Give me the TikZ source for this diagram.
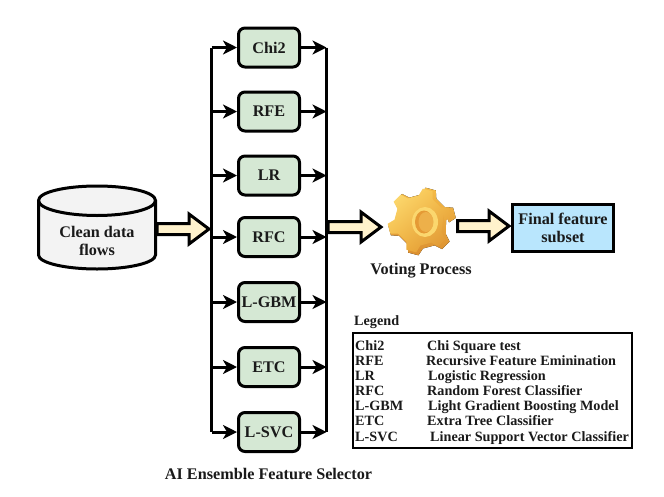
\documentclass[tikz,border=0pt]{standalone}
\usepackage{fontspec}
\setmainfont{Liberation Serif}
\usetikzlibrary{arrows.meta,calc,shadings}
\definecolor{boxgreen}{HTML}{D5E8D4}
\definecolor{arrowcream}{HTML}{FFF2CC}
\definecolor{finalblue}{HTML}{B9E6FD}
\definecolor{cylgray}{HTML}{F3F3F3}
\definecolor{txt}{HTML}{1A1A1A}
\definecolor{gearA}{HTML}{FFE27A}
\definecolor{gearB}{HTML}{F5BC48}
\definecolor{gearC}{HTML}{F2B642}
\definecolor{gearD}{HTML}{DB8F30}
\definecolor{gearE}{HTML}{E59A35}
\definecolor{gearF}{HTML}{FBD76E}
\definecolor{gearG}{HTML}{EDB04A}
\tikzset{
  x=1pt,y=-1pt,
  every node/.style={font=\bfseries\fontsize{16.2}{18}\selectfont,text=txt,inner sep=0pt},
  selector/.style={draw=black,line width=3pt,rounded corners=6.5pt,fill=boxgreen,minimum width=61pt,minimum height=39pt},
  bus/.style={line width=3pt,line cap=butt},
  feed/.style={line width=3pt,-{Stealth[length=14pt,width=14pt,inset=4pt]}},
  fat/.style={draw=black,line width=3pt,fill=arrowcream,miter limit=6},
  legendkey/.style={anchor=base west,font=\bfseries\fontsize{14.2}{16}\selectfont},
}
% fat arrow between two named points
\newcommand{\fatarrow}[2]{%
  \path[fat] let \p1=(#1),\p2=(#2) in
    (\x1,\y1+5.5pt) -- (\x2-20pt,\y1+5.5pt) -- (\x2-20pt,\y1+15pt) -- (\x2,\y1) --
    (\x2-20pt,\y1-15pt) -- (\x2-20pt,\y1-5.5pt) -- (\x1,\y1-5.5pt) -- cycle;}
\begin{document}
\begin{tikzpicture}
\useasboundingbox (0,0) rectangle (664,496);
% selectors
\node[selector] (chi) at (269,47.5) {Chi2};
\node[selector] (rfe) at (269,111.5) {RFE};
\node[selector] (lr) at (269,175.5) {LR};
\node[selector] (rfc) at (269,237) {RFC};
\node[selector] (gbm) at (269,302) {L-GBM};
\node[selector] (etc) at (269,367) {ETC};
\node[selector] (svc) at (269,432) {L-SVC};
% buses
\coordinate (lt) at (211.5,47.5);
\coordinate (lb) at (211.5,432);
\coordinate (rt) at (326.5,47.5);
\coordinate (rb) at (326.5,432);
\draw[bus] (lt) -- (lb);
\draw[bus] (rt) -- (rb);
\foreach \n in {chi,rfe,lr,rfc,gbm,etc,svc}{
  \draw[feed] (lt |- \n.west) -- (\n.west);
  \draw[feed] (\n.east) -- (rt |- \n.east);
}
% cylinder
\node[minimum width=118pt,minimum height=84pt] (clean) at (97,227.5) {};
\draw[line width=3pt,fill=cylgray] (38.5,200.5) .. controls (38.5,192) and (66,186) .. (97,186)
  .. controls (128,186) and (155.5,192) .. (155.5,200.5) -- (155.5,255)
  .. controls (155.5,263) and (128,269) .. (97,269)
  .. controls (66,269) and (38.5,263) .. (38.5,255) -- cycle;
\draw[line width=3pt] (38.5,200.5) .. controls (38.5,209) and (66,215.5) .. (97,215.5)
  .. controls (128,215.5) and (155.5,209) .. (155.5,200.5);
\node[align=center] at (97,241) {Clean data\\[0pt]flows};
% gear
\begin{scope}[shift={(422,221.5)}]
  \fill[top color=gearB,bottom color=gearD]
    (-15:25) \foreach \a in {15,75,135,195,255,315}{
      -- (-\a+17:27) -- (-\a+9:34) -- (-\a-9:34) -- (-\a-17:27) } -- cycle;
\end{scope}
\begin{scope}[shift={(419.5,220.5)}]
  \shade[upper left=gearA,lower right=gearD,upper right=gearB,lower left=gearC]
    (-15:25) \foreach \a in {15,75,135,195,255,315}{
      -- (-\a+17:25) -- (-\a+9:32) -- (-\a-9:32) -- (-\a-17:25) } -- cycle;
\end{scope}
\fill[gearF] (425,222) ellipse (13 and 15);
\fill[gearE] (424,222) ellipse (9 and 11.5);
\fill[gearG] (426,222) ellipse (7.5 and 10);
\node (vote) at (421,270.5) {Voting Process};
% final box
\node[draw=black,line width=3pt,fill=finalblue,minimum width=101pt,minimum height=47pt,align=center] (final) at (563,228) {Final feature\\[0pt]subset};
% fat arrows
\coordinate (a1) at (157,229);
\coordinate (a1e) at (209,229);
\coordinate (a2) at (328,227);
\coordinate (a2e) at (381,227);
\coordinate (a3) at (457.5,226);
\coordinate (a3e) at (509,226);
\fatarrow{a1}{a1e}
\fatarrow{a2}{a2e}
\fatarrow{a3}{a3e}
% bottom label
\node (ens) at (268.5,474) {AI Ensemble Feature Selector};
% legend
\node[legendkey] (legend) at (354,325) {Legend};
\node[draw=black,line width=2pt,minimum width=279pt,minimum height=115pt] (lbox) at (492,390) {};
\foreach \k/\v/\x/\y in {Chi2/Chi Square test/427/350,RFE/Recursive Feature Eminination/426/365,LR/Logistic Regression/428/380,RFC/Random Forest Classifier/427/395,L-GBM/Light Gradient Boosting Model/428/410,ETC/Extra Tree Classifier/427/425,L-SVC/Linear Support Vector Classifier/430/441}{
  \node[legendkey] at (355,\y) {\k};
  \node[legendkey] at (\x,\y) {\v};
}
\end{tikzpicture}
\end{document}
